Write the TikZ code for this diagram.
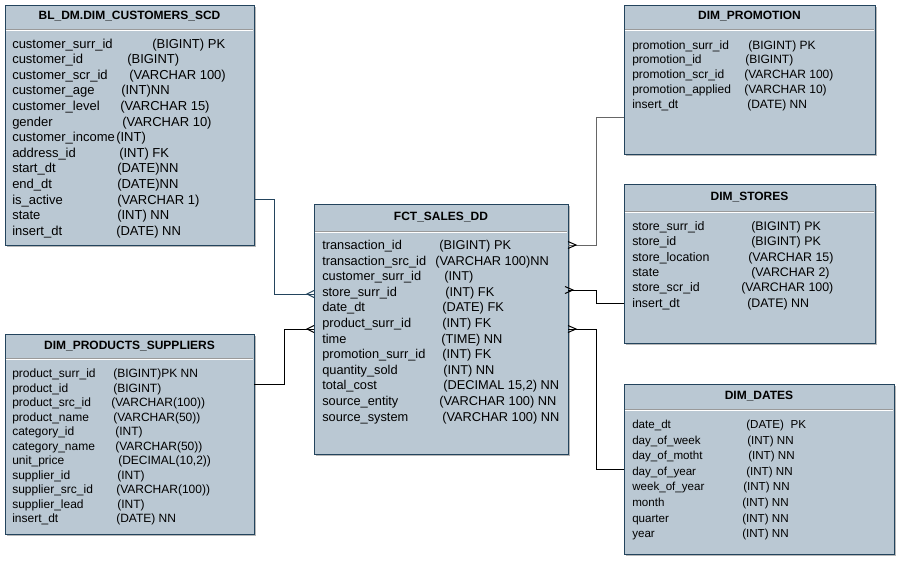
\documentclass[tikz,border=0pt]{standalone}
\usepackage{fontspec}
\setmainfont{Liberation Sans}
\usetikzlibrary{calc,shadows}
\definecolor{tfill}{HTML}{BAC8D3}
\definecolor{tline}{HTML}{23445D}
\definecolor{sepgray}{HTML}{9A9A9A}
\definecolor{pgray}{HTML}{666666}
\newcommand\ERrow[6]{\node[rowtxt] (#1n) at (#3,#2+4.5) {#5};\node[rowtxt] (#1t) at (#4,#2+4.5) {#6};}
\newcommand\ERsep[2]{%
  \draw[sepgray, line width=0.75pt] ($(#1.north west)+(0.6,#2)$) -- ($(#1.north east)+(-0.6,#2)$);
  \draw[white, line width=0.75pt] ($(#1.north west)+(0.6,#2+1)$) -- ($(#1.north east)+(-0.6,#2+1)$);}
\begin{document}
\begin{tikzpicture}[x=0.75pt,y=-0.75pt,
  tbl/.style={draw=tline, fill=tfill, line width=0.75pt, anchor=north west, inner sep=0pt, outer sep=0pt,
    drop shadow={shadow xshift=1.6pt, shadow yshift=-1.6pt, opacity=0.28, fill=black}},
  rowtxt/.style={anchor=base west, inner sep=0pt, font=\fontsize{9.6}{11}\selectfont},
  ttl/.style={anchor=base, inner sep=0pt, font=\fontsize{9}{11}\selectfont\bfseries},
  conn/.style={line width=0.75pt, draw=black},
  crowL/.pic={\draw[pic actions] (0,-3.5) -- (-7,0) -- (0,3.5);},
  crowR/.pic={\draw[pic actions] (0,-3.5) -- (8,0) -- (0,3.5);}]
\useasboundingbox (0,0) rectangle (901,562);
\fill[white] (0,0) rectangle (901,562);

% ---------- tables ----------
\node[tbl, minimum width=186.75pt, minimum height=180pt] (cust) at (5,5) {};
\node[tbl, minimum width=186.75pt, minimum height=150pt] (prod) at (5,334) {};
\node[tbl, minimum width=190.5pt, minimum height=187.5pt] (fct) at (314,204) {};
\node[tbl, minimum width=188.25pt, minimum height=111.75pt] (promo) at (624,5) {};
\node[tbl, minimum width=188.25pt, minimum height=119.25pt] (stores) at (624,184) {};
\node[tbl, minimum width=202.5pt, minimum height=127.5pt] (dates) at (624,384) {};

\ERsep{cust}{24}
\ERsep{prod}{24}
\ERsep{fct}{27}
\ERsep{promo}{24}
\ERsep{stores}{27}
\ERsep{dates}{25}

\node[ttl] (custT) at ($(cust.north)+(0,14.3)$) {BL\_DM.DIM\_CUSTOMERS\_SCD};
\node[ttl] (prodT) at ($(prod.north)+(0,15.3)$) {DIM\_PRODUCTS\_SUPPLIERS};
\node[ttl] (fctT) at ($(fct.north)+(0,16.3)$) {FCT\_SALES\_DD};
\node[ttl] (promoT) at ($(promo.north)+(0,14.3)$) {DIM\_PROMOTION};
\node[ttl] (storesT) at ($(stores.north)+(0,16.3)$) {DIM\_STORES};
\node[ttl] (datesT) at ($(dates.north)+(0,15.3)$) {DIM\_DATES};

% customers
\begin{scope}[rowtxt/.append style={font=\fontsize{9.75}{11}\selectfont}]
\ERrow{c1}{43.5}{12}{152}{customer\_surr\_id}{(BIGINT) PK}
\ERrow{c2}{59.1}{12}{127}{customer\_id}{(BIGINT)}
\ERrow{c3}{74.7}{12}{129}{customer\_scr\_id}{(VARCHAR 100)}
\ERrow{c4}{90.3}{12}{121}{customer\_age}{(INT)NN}
\ERrow{c5}{105.9}{12}{120}{customer\_level}{(VARCHAR 15)}
\ERrow{c6}{121.5}{12}{122}{gender}{(VARCHAR 10)}
\ERrow{c7}{137.1}{12}{116}{customer\_income}{(INT)}
\ERrow{c8}{152.7}{12}{119}{address\_id}{(INT) FK}
\ERrow{c9}{168.3}{12}{117}{start\_dt}{(DATE)NN}
\ERrow{c10}{183.9}{12}{117}{end\_dt}{(DATE)NN}
\ERrow{c11}{199.5}{12}{117}{is\_active}{(VARCHAR 1)}
\ERrow{c12}{215.1}{12}{117}{state}{(INT) NN}
\ERrow{c13}{230.7}{12}{116}{insert\_dt}{(DATE) NN}
\end{scope}

% products
\begin{scope}[rowtxt/.append style={font=\fontsize{9}{11}\selectfont}]
\ERrow{p1}{373}{12}{113}{product\_surr\_id}{(BIGINT)PK NN}
\ERrow{p2}{387.5}{12}{113}{product\_id}{(BIGINT)}
\ERrow{p3}{402}{12}{111}{product\_src\_id}{(VARCHAR(100))}
\ERrow{p4}{416.5}{12}{113}{product\_name}{(VARCHAR(50))}
\ERrow{p5}{431}{12}{115}{category\_id}{(INT)}
\ERrow{p6}{445.5}{12}{115}{category\_name}{(VARCHAR(50))}
\ERrow{p7}{460}{12}{118}{unit\_price}{(DECIMAL(10,2))}
\ERrow{p8}{474.5}{12}{117}{supplier\_id}{(INT)}
\ERrow{p9}{489}{12}{116}{supplier\_src\_id}{(VARCHAR(100))}
\ERrow{p10}{503.5}{12}{117}{supplier\_lead}{(INT)}
\ERrow{p11}{518}{12}{116}{insert\_dt}{(DATE) NN}
\end{scope}

% fact
\ERrow{f1}{245}{322}{439}{transaction\_id}{(BIGINT) PK}
\ERrow{f2}{260.6}{322}{435}{transaction\_src\_id}{(VARCHAR 100)NN}
\ERrow{f3}{276.2}{322}{444}{customer\_surr\_id}{(INT)}
\ERrow{f4}{291.8}{322}{445}{store\_surr\_id}{(INT) FK}
\ERrow{f5}{307.4}{322}{442}{date\_dt}{(DATE) FK}
\ERrow{f6}{323}{322}{442}{product\_surr\_id}{(INT) FK}
\ERrow{f7}{338.6}{322}{441}{time}{(TIME) NN}
\ERrow{f8}{354.2}{322}{442}{promotion\_surr\_id}{(INT) FK}
\ERrow{f9}{369.8}{322}{443}{quantity\_sold}{(INT) NN}
\ERrow{f10}{385.4}{322}{443}{total\_cost}{(DECIMAL 15,2) NN}
\ERrow{f11}{401}{322}{439}{source\_entity}{(VARCHAR 100) NN}
\ERrow{f12}{416.6}{322}{442}{source\_system}{(VARCHAR 100) NN}

% promotion
\begin{scope}[rowtxt/.append style={font=\fontsize{9}{11}\selectfont}]
\ERrow{m1}{44.5}{632}{748}{promotion\_surr\_id}{(BIGINT) PK}
\ERrow{m2}{59.3}{632}{745}{promotion\_id}{(BIGINT)}
\ERrow{m3}{74.1}{632}{744}{promotion\_scr\_id}{(VARCHAR 100)}
\ERrow{m4}{88.9}{632}{744}{promotion\_applied}{(VARCHAR 10)}
\ERrow{m5}{103.7}{632}{747}{insert\_dt}{(DATE) NN}
\end{scope}

% stores
\begin{scope}[rowtxt/.append style={font=\fontsize{9.3}{11}\selectfont}]
\ERrow{s1}{226}{632}{751}{store\_surr\_id}{(BIGINT) PK}
\ERrow{s2}{241.3}{632}{751}{store\_id}{(BIGINT) PK}
\ERrow{s3}{256.6}{632}{748}{store\_location}{(VARCHAR 15)}
\ERrow{s4}{271.9}{632}{751}{state}{(VARCHAR 2)}
\ERrow{s5}{287.2}{632}{741}{store\_scr\_id}{(VARCHAR 100)}
\ERrow{s6}{302.5}{632}{747}{insert\_dt}{(DATE) NN}
\end{scope}

% dates
\begin{scope}[rowtxt/.append style={font=\fontsize{8.7}{11}\selectfont}]
\ERrow{d1}{424}{632}{746}{date\_dt}{(DATE)\ \ PK}
\ERrow{d2}{439.6}{632}{747}{day\_of\_week}{(INT) NN}
\ERrow{d3}{455.2}{632}{748}{day\_of\_motht}{(INT) NN}
\ERrow{d4}{470.8}{632}{746}{day\_of\_year}{(INT) NN}
\ERrow{d5}{486.4}{632}{743}{week\_of\_year}{(INT) NN}
\ERrow{d6}{502}{632}{742}{month}{(INT) NN}
\ERrow{d7}{517.6}{632}{742}{quarter}{(INT) NN}
\ERrow{d8}{533.2}{632}{742}{year}{(INT) NN}
\end{scope}

% ---------- connectors ----------
\draw[conn, draw=tline] ($(cust.north east)+(0,194)$) -- ++(20,0) |- ($(fct.north west)+(0,90)$);
\pic[draw=tline, line width=0.75pt] at ($(fct.north west)+(0,90)$) {crowL};

\draw[conn] ($(prod.north east)+(0,50)$) -- ++(30,0) |- ($(fct.north west)+(0,125)$);
\pic[draw=black, line width=0.75pt] at ($(fct.north west)+(0,125)$) {crowL};

\draw[conn, draw=pgray] ($(promo.north west)+(0,112)$) -- ++(-28,0) |- ($(fct.north east)+(0,41)$);
\pic[draw=black, line width=0.75pt] at ($(fct.north east)+(0,41)$) {crowR};

\draw[conn] ($(stores.north west)+(0,119)$) -- ++(-28,0) |- ($(fct.north east)+(0,86)$);
\pic[draw=black, line width=0.75pt] at ($(fct.north east)+(-3,86)$) {crowR};

\draw[conn] ($(dates.north west)+(0,85)$) -- ++(-28,0) |- ($(fct.north east)+(0,125)$);
\pic[draw=black, line width=0.75pt] at ($(fct.north east)+(0,125)$) {crowR};
\end{tikzpicture}
\end{document}
